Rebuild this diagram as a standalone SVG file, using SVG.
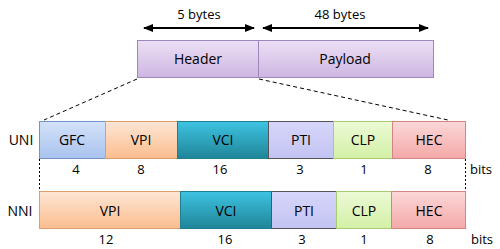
<svg xmlns="http://www.w3.org/2000/svg" width="500" height="249" viewBox="0 0 500 249">
  <defs>
    <linearGradient id="gLav" x1="0" y1="0" x2="0" y2="1">
      <stop offset="0" stop-color="#ecdff5"/><stop offset="1" stop-color="#cdb6e2"/>
    </linearGradient>
    <linearGradient id="gBlue" x1="0" y1="0" x2="0" y2="1">
      <stop offset="0" stop-color="#d3e2f8"/><stop offset="1" stop-color="#a9c3ee"/>
    </linearGradient>
    <linearGradient id="gOrange" x1="0" y1="0" x2="0" y2="1">
      <stop offset="0" stop-color="#fde6d5"/><stop offset="1" stop-color="#fbbd8e"/>
    </linearGradient>
    <linearGradient id="gTeal" x1="0" y1="0" x2="0" y2="1">
      <stop offset="0" stop-color="#3ec3e2"/><stop offset="1" stop-color="#1f8598"/>
    </linearGradient>
    <linearGradient id="gPeri" x1="0" y1="0" x2="0" y2="1">
      <stop offset="0" stop-color="#d6d6fa"/><stop offset="1" stop-color="#c3c3f3"/>
    </linearGradient>
    <linearGradient id="gGreen" x1="0" y1="0" x2="0" y2="1">
      <stop offset="0" stop-color="#ecfad6"/><stop offset="1" stop-color="#d3f0a6"/>
    </linearGradient>
    <linearGradient id="gPink" x1="0" y1="0" x2="0" y2="1">
      <stop offset="0" stop-color="#fcd8d8"/><stop offset="1" stop-color="#f4a8a8"/>
    </linearGradient>
    <marker id="ah" viewBox="0 0 10 10" refX="9" refY="5" markerWidth="10" markerHeight="10" markerUnits="userSpaceOnUse" orient="auto-start-reverse">
      <path d="M0,1 L10,5 L0,9 Z" fill="#000"/>
    </marker>
    <style>
      text { font-family: "Open Sans", "Liberation Sans", sans-serif; font-size: 13px; fill: #000; text-anchor: middle; }
      .lbl { font-size: 14px; }
      .dash { stroke: #000; stroke-width: 1; stroke-dasharray: 4 3; fill: none; }
      .vdash { stroke: #000; stroke-width: 1; stroke-dasharray: 2 2; fill: none; }
      .arrow { stroke: #000; stroke-width: 1.8; fill: none; }
    </style>
  </defs>

  <!-- byte-length arrows -->
  <g id="sizes">
    <line class="arrow" x1="144" y1="28" x2="254" y2="28" marker-start="url(#ah)" marker-end="url(#ah)"/>
    <line class="arrow" x1="263" y1="28" x2="428" y2="28" marker-start="url(#ah)" marker-end="url(#ah)"/>
    <text x="199" y="19">5 bytes</text>
    <text x="340" y="19">48 bytes</text>
  </g>

  <!-- cell: header + payload -->
  <g id="header">
    <rect x="137.5" y="40.5" width="121" height="37" fill="url(#gLav)" stroke="#9f86bd"/>
    <text class="lbl" x="198" y="64">Header</text>
  </g>
  <g id="payload">
    <rect x="258.5" y="40.5" width="175" height="37" fill="url(#gLav)" stroke="#9f86bd"/>
    <text class="lbl" x="345" y="64">Payload</text>
  </g>

  <!-- connectors -->
  <g id="connectors">
    <line class="dash" x1="137" y1="79" x2="44" y2="120"/>
    <line class="dash" x1="259" y1="79" x2="448" y2="120"/>
    <line class="vdash" x1="39.5" y1="159" x2="39.5" y2="191"/>
    <line class="vdash" x1="465.5" y1="159" x2="465.5" y2="191"/>
  </g>

  <!-- UNI header format -->
  <g id="uni">
    <text class="lbl" x="21" y="145">UNI</text>
    <g id="uni-gfc"><rect x="39.5" y="121.5" width="66" height="37" fill="url(#gBlue)" stroke="#7393c8"/><text class="lbl" x="72" y="145">GFC</text></g>
    <g id="uni-vpi"><rect x="105.5" y="121.5" width="72" height="37" fill="url(#gOrange)" stroke="#dc9e70"/><text class="lbl" x="141" y="145">VPI</text></g>
    <g id="uni-vci"><rect x="177.5" y="121.5" width="91" height="37" fill="url(#gTeal)" stroke="#1f7f92"/><text class="lbl" x="223" y="145">VCI</text></g>
    <g id="uni-pti"><rect x="268.5" y="121.5" width="65" height="37" fill="url(#gPeri)" stroke="#555"/><text class="lbl" x="301" y="145">PTI</text></g>
    <g id="uni-clp"><rect x="333.5" y="121.5" width="59" height="37" fill="url(#gGreen)" stroke="#a8cc72"/><text class="lbl" x="363" y="145">CLP</text></g>
    <g id="uni-hec"><rect x="392.5" y="121.5" width="73" height="37" fill="url(#gPink)" stroke="#d38585"/><text class="lbl" x="429" y="145">HEC</text></g>
    <g id="uni-bits">
      <text x="76" y="174">4</text>
      <text x="141" y="174">8</text>
      <text x="220" y="174">16</text>
      <text x="300" y="174">3</text>
      <text x="364" y="174">1</text>
      <text x="428" y="174">8</text>
      <text x="481" y="174">bits</text>
    </g>
  </g>

  <!-- NNI header format -->
  <g id="nni">
    <text class="lbl" x="20" y="216">NNI</text>
    <g id="nni-vpi"><rect x="39.5" y="191.5" width="141" height="37" fill="url(#gOrange)" stroke="#dc9e70"/><text class="lbl" x="110" y="216">VPI</text></g>
    <g id="nni-vci"><rect x="180.5" y="191.5" width="91" height="37" fill="url(#gTeal)" stroke="#1f7f92"/><text class="lbl" x="226" y="216">VCI</text></g>
    <g id="nni-pti"><rect x="271.5" y="191.5" width="65" height="37" fill="url(#gPeri)" stroke="#555"/><text class="lbl" x="304" y="216">PTI</text></g>
    <g id="nni-clp"><rect x="336.5" y="191.5" width="55" height="37" fill="url(#gGreen)" stroke="#a8cc72"/><text class="lbl" x="364" y="216">CLP</text></g>
    <g id="nni-hec"><rect x="391.5" y="191.5" width="74" height="37" fill="url(#gPink)" stroke="#d38585"/><text class="lbl" x="429" y="216">HEC</text></g>
    <g id="nni-bits">
      <text x="106" y="244">12</text>
      <text x="225" y="244">16</text>
      <text x="302" y="244">3</text>
      <text x="364" y="244">1</text>
      <text x="430" y="244">8</text>
      <text x="482" y="244">bits</text>
    </g>
  </g>
</svg>
